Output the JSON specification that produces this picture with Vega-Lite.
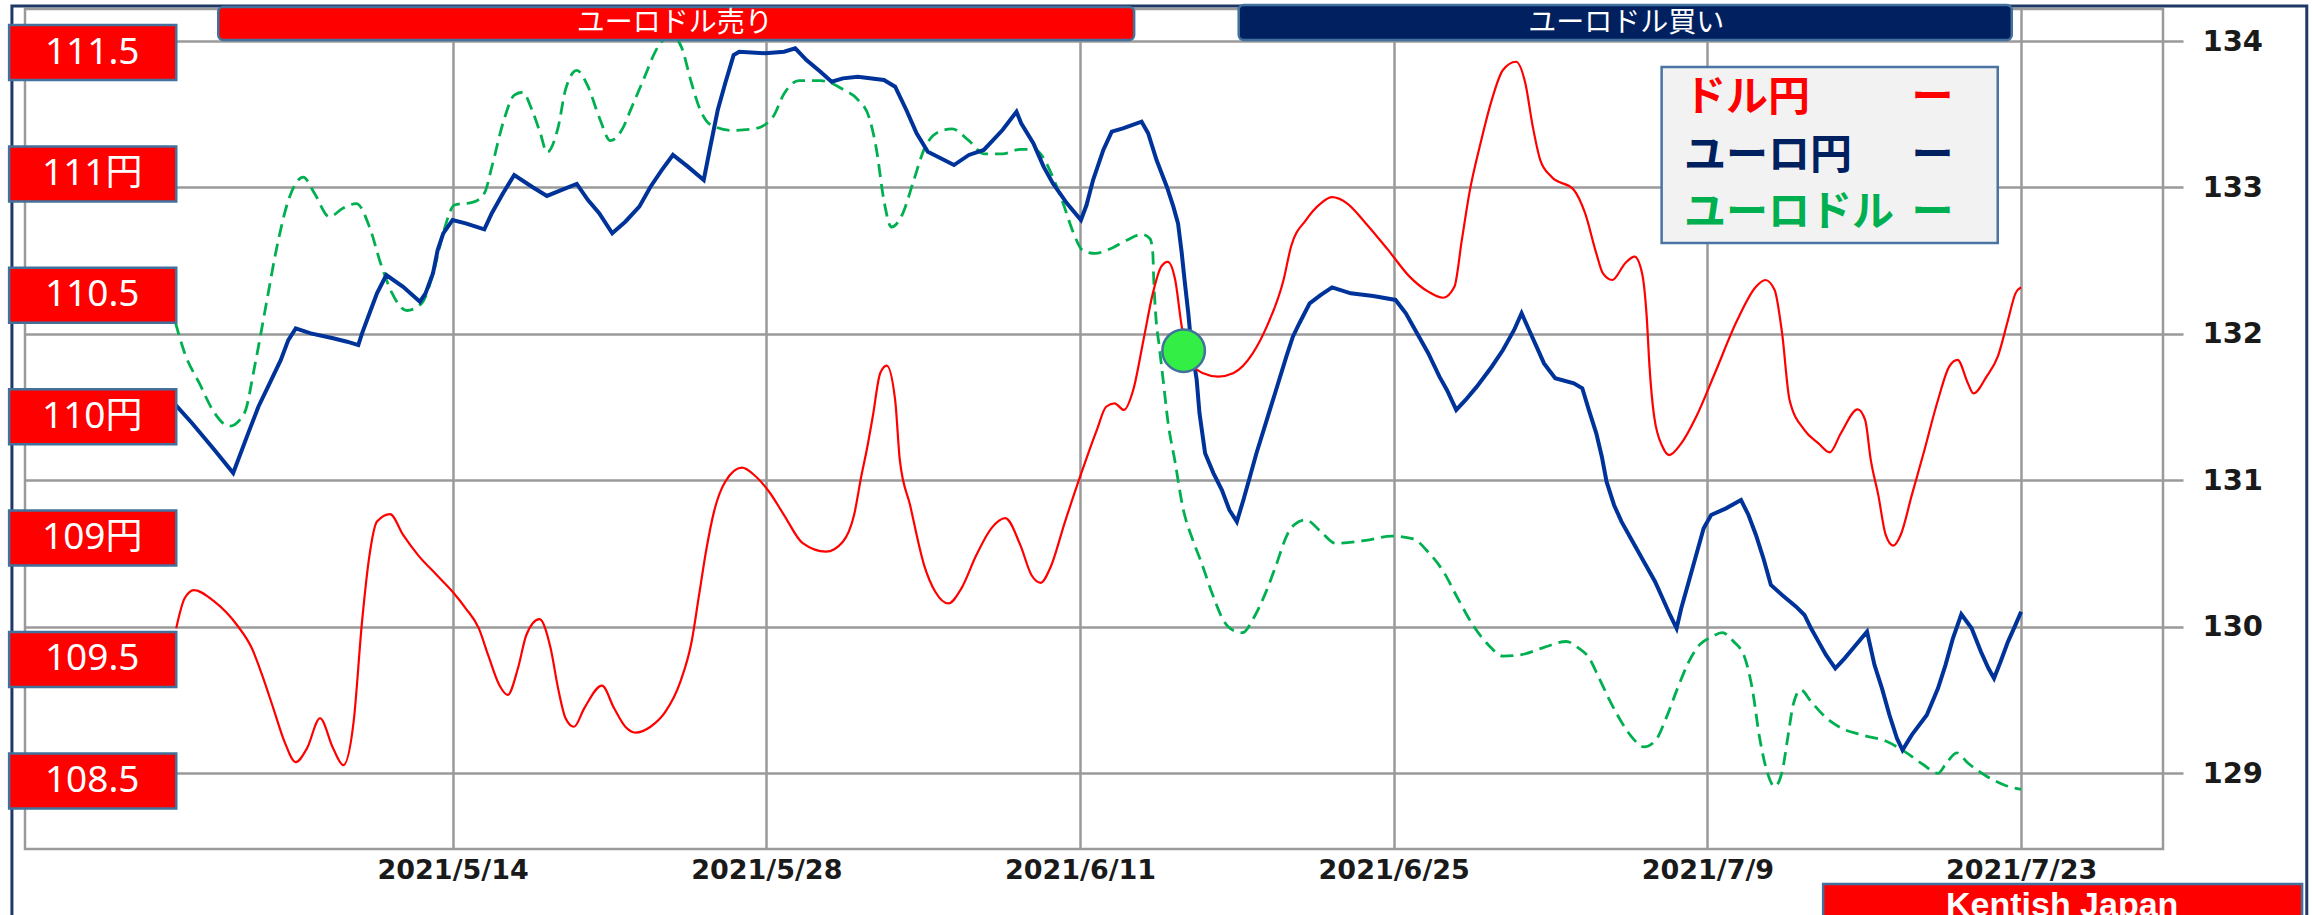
{
  "$schema": "https://vega.github.io/schema/vega-lite/v6.json",
  "width": 2138,
  "height": 840,
  "autosize": {"type": "none"},
  "padding": {"left": 25, "top": 9, "right": 149, "bottom": 66},
  "background": "#FFFFFF",
  "config": {"view": {"stroke": "#9A9A9A", "strokeWidth": 2.5}},
  "datasets": {
    "eurjpy": [
      {"t":"2021-05-01T09:00Z","v":131.56},{"t":"2021-05-02T09:00Z","v":131.39},{"t":"2021-05-03T09:00Z","v":131.207},{"t":"2021-05-04T05:00Z","v":131.05},
      {"t":"2021-05-04T21:00Z","v":131.321},{"t":"2021-05-05T08:00Z","v":131.503},{"t":"2021-05-05T20:00Z","v":131.663},{"t":"2021-05-06T08:00Z","v":131.822},
      {"t":"2021-05-06T16:00Z","v":131.958},{"t":"2021-05-07T00:00Z","v":132.038},{"t":"2021-05-07T16:00Z","v":132.004},{"t":"2021-05-08T16:00Z","v":131.97},
      {"t":"2021-05-09T07:00Z","v":131.947},{"t":"2021-05-09T19:00Z","v":131.924},{"t":"2021-05-09T23:00Z","v":132.004},{"t":"2021-05-10T07:00Z","v":132.141},
      {"t":"2021-05-10T15:00Z","v":132.277},{"t":"2021-05-11T01:00Z","v":132.402},{"t":"2021-05-11T19:00Z","v":132.322},{"t":"2021-05-12T13:00Z","v":132.22},
      {"t":"2021-05-12T19:00Z","v":132.277},{"t":"2021-05-13T03:00Z","v":132.414},{"t":"2021-05-13T08:00Z","v":132.573},{"t":"2021-05-13T14:00Z","v":132.687},
      {"t":"2021-05-14T00:00Z","v":132.778},{"t":"2021-05-14T14:00Z","v":132.755},{"t":"2021-05-15T10:00Z","v":132.714},{"t":"2021-05-15T18:00Z","v":132.824},
      {"t":"2021-05-16T06:00Z","v":132.96},{"t":"2021-05-16T18:00Z","v":133.085},{"t":"2021-05-17T13:00Z","v":133.005},{"t":"2021-05-18T05:00Z","v":132.942},
      {"t":"2021-05-18T21:00Z","v":132.983},{"t":"2021-05-19T13:00Z","v":133.024},{"t":"2021-05-20T01:00Z","v":132.914},{"t":"2021-05-20T13:00Z","v":132.824},
      {"t":"2021-05-21T03:00Z","v":132.687},{"t":"2021-05-21T17:00Z","v":132.766},{"t":"2021-05-22T08:00Z","v":132.869},{"t":"2021-05-22T20:00Z","v":133.005},
      {"t":"2021-05-23T08:00Z","v":133.119},{"t":"2021-05-23T20:00Z","v":133.222},{"t":"2021-05-24T12:00Z","v":133.142},{"t":"2021-05-25T05:00Z","v":133.051},
      {"t":"2021-05-25T12:00Z","v":133.278},{"t":"2021-05-25T20:00Z","v":133.529},{"t":"2021-05-26T04:00Z","v":133.711},{"t":"2021-05-26T13:00Z","v":133.904},
      {"t":"2021-05-26T19:00Z","v":133.927},{"t":"2021-05-27T23:00Z","v":133.916},{"t":"2021-05-28T19:00Z","v":133.927},{"t":"2021-05-29T07:00Z","v":133.95},
      {"t":"2021-05-29T19:00Z","v":133.87},{"t":"2021-05-30T10:00Z","v":133.79},{"t":"2021-05-30T22:00Z","v":133.722},{"t":"2021-05-31T10:00Z","v":133.745},
      {"t":"2021-06-01T02:00Z","v":133.756},{"t":"2021-06-02T06:00Z","v":133.734},{"t":"2021-06-02T18:00Z","v":133.688},{"t":"2021-06-03T06:00Z","v":133.529},
      {"t":"2021-06-03T17:00Z","v":133.37},{"t":"2021-06-04T05:00Z","v":133.244},{"t":"2021-06-05T09:00Z","v":133.153},{"t":"2021-06-06T01:00Z","v":133.222},
      {"t":"2021-06-06T17:00Z","v":133.256},{"t":"2021-06-07T13:00Z","v":133.392},{"t":"2021-06-08T04:00Z","v":133.517},{"t":"2021-06-08T09:00Z","v":133.438},
      {"t":"2021-06-08T22:00Z","v":133.302},{"t":"2021-06-09T09:00Z","v":133.142},{"t":"2021-06-09T19:00Z","v":133.028},{"t":"2021-06-10T10:00Z","v":132.892},
      {"t":"2021-06-11T01:00Z","v":132.778},{"t":"2021-06-11T07:00Z","v":132.88},{"t":"2021-06-11T14:00Z","v":133.051},{"t":"2021-06-12T01:00Z","v":133.256},
      {"t":"2021-06-12T10:00Z","v":133.381},{"t":"2021-06-12T22:00Z","v":133.404},{"t":"2021-06-13T18:00Z","v":133.449},{"t":"2021-06-14T01:00Z","v":133.37},
      {"t":"2021-06-14T10:00Z","v":133.187},{"t":"2021-06-14T21:00Z","v":133.005},{"t":"2021-06-15T04:00Z","v":132.869},{"t":"2021-06-15T09:00Z","v":132.755},
      {"t":"2021-06-15T13:00Z","v":132.55},{"t":"2021-06-15T16:00Z","v":132.368},{"t":"2021-06-15T20:00Z","v":132.141},{"t":"2021-06-15T23:00Z","v":131.936},
      {"t":"2021-06-16T05:00Z","v":131.685},{"t":"2021-06-16T08:00Z","v":131.458},{"t":"2021-06-16T14:00Z","v":131.185},{"t":"2021-06-16T23:00Z","v":131.048},
      {"t":"2021-06-17T08:00Z","v":130.934},{"t":"2021-06-17T16:00Z","v":130.798},{"t":"2021-06-18T00:00Z","v":130.718},{"t":"2021-06-18T07:00Z","v":130.866},
      {"t":"2021-06-18T14:00Z","v":131.025},{"t":"2021-06-18T21:00Z","v":131.185},{"t":"2021-06-19T08:00Z","v":131.412},{"t":"2021-06-19T18:00Z","v":131.617},
      {"t":"2021-06-20T05:00Z","v":131.845},{"t":"2021-06-20T12:00Z","v":131.981},{"t":"2021-06-20T19:00Z","v":132.073},{"t":"2021-06-21T06:00Z","v":132.209},
      {"t":"2021-06-21T18:00Z","v":132.266},{"t":"2021-06-22T06:00Z","v":132.318},{"t":"2021-06-23T02:00Z","v":132.277},{"t":"2021-06-24T02:00Z","v":132.259},
      {"t":"2021-06-25T02:00Z","v":132.232},{"t":"2021-06-25T13:00Z","v":132.141},{"t":"2021-06-26T01:00Z","v":132.004},{"t":"2021-06-26T13:00Z","v":131.868},
      {"t":"2021-06-27T01:00Z","v":131.708},{"t":"2021-06-27T09:00Z","v":131.617},{"t":"2021-06-27T19:00Z","v":131.481},{"t":"2021-06-28T05:00Z","v":131.549},
      {"t":"2021-06-28T17:00Z","v":131.64},{"t":"2021-06-29T09:00Z","v":131.776},{"t":"2021-06-29T21:00Z","v":131.89},{"t":"2021-06-30T09:00Z","v":132.027},
      {"t":"2021-06-30T17:00Z","v":132.141},{"t":"2021-07-01T01:00Z","v":132.027},{"t":"2021-07-01T09:00Z","v":131.913},{"t":"2021-07-01T17:00Z","v":131.799},
      {"t":"2021-07-02T05:00Z","v":131.697},{"t":"2021-07-03T01:00Z","v":131.663},{"t":"2021-07-03T10:00Z","v":131.629},{"t":"2021-07-03T17:00Z","v":131.481},
      {"t":"2021-07-04T01:00Z","v":131.321},{"t":"2021-07-04T07:00Z","v":131.16},{"t":"2021-07-04T12:00Z","v":130.991},{"t":"2021-07-04T20:00Z","v":130.832},
      {"t":"2021-07-05T04:00Z","v":130.718},{"t":"2021-07-05T16:00Z","v":130.581},{"t":"2021-07-06T04:00Z","v":130.445},{"t":"2021-07-06T16:00Z","v":130.308},
      {"t":"2021-07-07T00:00Z","v":130.195},{"t":"2021-07-07T08:00Z","v":130.081},{"t":"2021-07-07T15:00Z","v":129.99},{"t":"2021-07-07T20:00Z","v":130.127},
      {"t":"2021-07-08T04:00Z","v":130.308},{"t":"2021-07-08T12:00Z","v":130.491},{"t":"2021-07-08T20:00Z","v":130.673},{"t":"2021-07-09T04:00Z","v":130.764},
      {"t":"2021-07-09T20:00Z","v":130.809},{"t":"2021-07-10T12:00Z","v":130.866},{"t":"2021-07-10T20:00Z","v":130.764},{"t":"2021-07-11T04:00Z","v":130.627},
      {"t":"2021-07-11T12:00Z","v":130.468},{"t":"2021-07-11T20:00Z","v":130.286},{"t":"2021-07-12T08:00Z","v":130.217},{"t":"2021-07-12T23:00Z","v":130.138},
      {"t":"2021-07-13T08:00Z","v":130.081},{"t":"2021-07-13T15:00Z","v":129.99},{"t":"2021-07-13T23:00Z","v":129.899},{"t":"2021-07-14T07:00Z","v":129.808},
      {"t":"2021-07-14T17:00Z","v":129.717},{"t":"2021-07-15T03:00Z","v":129.785},{"t":"2021-07-15T15:00Z","v":129.876},{"t":"2021-07-16T03:00Z","v":129.967},
      {"t":"2021-07-16T11:00Z","v":129.739},{"t":"2021-07-16T19:00Z","v":129.58},{"t":"2021-07-17T03:00Z","v":129.398},{"t":"2021-07-17T11:00Z","v":129.239},
      {"t":"2021-07-17T17:00Z","v":129.159},{"t":"2021-07-18T03:00Z","v":129.262},{"t":"2021-07-18T19:00Z","v":129.398},{"t":"2021-07-19T07:00Z","v":129.58},
      {"t":"2021-07-19T15:00Z","v":129.739},{"t":"2021-07-19T23:00Z","v":129.922},{"t":"2021-07-20T08:00Z","v":130.086},{"t":"2021-07-20T19:00Z","v":129.99},
      {"t":"2021-07-21T05:00Z","v":129.83},{"t":"2021-07-21T13:00Z","v":129.717},{"t":"2021-07-21T19:00Z","v":129.649},{"t":"2021-07-22T02:00Z","v":129.762},
      {"t":"2021-07-22T10:00Z","v":129.899},{"t":"2021-07-22T18:00Z","v":130.013},{"t":"2021-07-23T00:00Z","v":130.103}
    ],
    "eurusd": [
      {"t":"2021-05-01T15:00Z","v":1.2108},{"t":"2021-05-02T01:00Z","v":1.2087},{"t":"2021-05-02T17:00Z","v":1.2066},{"t":"2021-05-03T09:00Z","v":1.2046},
      {"t":"2021-05-04T01:00Z","v":1.2037},{"t":"2021-05-04T17:00Z","v":1.2046},{"t":"2021-05-05T04:00Z","v":1.2078},{"t":"2021-05-05T16:00Z","v":1.2119},
      {"t":"2021-05-06T04:00Z","v":1.216},{"t":"2021-05-06T16:00Z","v":1.2191},{"t":"2021-05-07T08:00Z","v":1.2207},{"t":"2021-05-07T20:00Z","v":1.2196},
      {"t":"2021-05-08T12:00Z","v":1.218},{"t":"2021-05-09T03:00Z","v":1.2186},{"t":"2021-05-09T17:00Z","v":1.2189},{"t":"2021-05-10T07:00Z","v":1.2173},
      {"t":"2021-05-10T19:00Z","v":1.2148},{"t":"2021-05-11T07:00Z","v":1.2128},{"t":"2021-05-11T23:00Z","v":1.2116},{"t":"2021-05-12T15:00Z","v":1.2121},
      {"t":"2021-05-13T03:00Z","v":1.2141},{"t":"2021-05-13T14:00Z","v":1.2169},{"t":"2021-05-14T02:00Z","v":1.2188},{"t":"2021-05-14T22:00Z","v":1.219},
      {"t":"2021-05-15T10:00Z","v":1.2196},{"t":"2021-05-15T18:00Z","v":1.2214},{"t":"2021-05-16T06:00Z","v":1.2244},{"t":"2021-05-16T18:00Z","v":1.2263},
      {"t":"2021-05-17T03:00Z","v":1.2265},{"t":"2021-05-17T13:00Z","v":1.2253},{"t":"2021-05-17T22:00Z","v":1.2237},{"t":"2021-05-18T05:00Z","v":1.2224},
      {"t":"2021-05-18T17:00Z","v":1.2241},{"t":"2021-05-19T01:00Z","v":1.2267},{"t":"2021-05-19T13:00Z","v":1.228},{"t":"2021-05-20T01:00Z","v":1.2269},
      {"t":"2021-05-20T13:00Z","v":1.2248},{"t":"2021-05-21T01:00Z","v":1.2232},{"t":"2021-05-21T13:00Z","v":1.2239},{"t":"2021-05-22T00:00Z","v":1.2255},
      {"t":"2021-05-22T12:00Z","v":1.2273},{"t":"2021-05-23T04:00Z","v":1.2296},{"t":"2021-05-23T18:00Z","v":1.2304},{"t":"2021-05-24T05:00Z","v":1.2296},
      {"t":"2021-05-24T16:00Z","v":1.2271},{"t":"2021-05-25T00:00Z","v":1.2255},{"t":"2021-05-25T12:00Z","v":1.2243},{"t":"2021-05-26T11:00Z","v":1.2239},
      {"t":"2021-05-27T11:00Z","v":1.224},{"t":"2021-05-28T07:00Z","v":1.2248},{"t":"2021-05-28T19:00Z","v":1.2264},{"t":"2021-05-29T11:00Z","v":1.2273},
      {"t":"2021-05-30T10:00Z","v":1.2273},{"t":"2021-05-31T10:00Z","v":1.2267},{"t":"2021-06-01T02:00Z","v":1.226},{"t":"2021-06-01T14:00Z","v":1.2248},
      {"t":"2021-06-01T22:00Z","v":1.2226},{"t":"2021-06-02T06:00Z","v":1.2191},{"t":"2021-06-02T14:00Z","v":1.2173},{"t":"2021-06-03T02:00Z","v":1.2182},
      {"t":"2021-06-03T14:00Z","v":1.2205},{"t":"2021-06-04T01:00Z","v":1.2226},{"t":"2021-06-04T17:00Z","v":1.2238},{"t":"2021-06-05T07:00Z","v":1.224},
      {"t":"2021-06-06T01:00Z","v":1.2232},{"t":"2021-06-06T17:00Z","v":1.2223},{"t":"2021-06-07T13:00Z","v":1.2223},{"t":"2021-06-08T08:00Z","v":1.2226},
      {"t":"2021-06-09T00:00Z","v":1.2226},{"t":"2021-06-09T09:00Z","v":1.222},{"t":"2021-06-09T19:00Z","v":1.2207},{"t":"2021-06-10T06:00Z","v":1.2189},
      {"t":"2021-06-10T17:00Z","v":1.2169},{"t":"2021-06-11T03:00Z","v":1.2157},{"t":"2021-06-11T16:00Z","v":1.2155},{"t":"2021-06-12T08:00Z","v":1.2158},
      {"t":"2021-06-13T02:00Z","v":1.2164},{"t":"2021-06-13T18:00Z","v":1.2168},{"t":"2021-06-14T03:00Z","v":1.2165},{"t":"2021-06-14T06:00Z","v":1.2155},
      {"t":"2021-06-14T07:00Z","v":1.2137},{"t":"2021-06-14T09:00Z","v":1.2114},{"t":"2021-06-14T13:00Z","v":1.2091},{"t":"2021-06-14T17:00Z","v":1.2069},
      {"t":"2021-06-14T22:00Z","v":1.2041},{"t":"2021-06-15T06:00Z","v":1.2012},{"t":"2021-06-15T14:00Z","v":1.1982},{"t":"2021-06-16T01:00Z","v":1.1959},
      {"t":"2021-06-16T10:00Z","v":1.1944},{"t":"2021-06-16T22:00Z","v":1.1922},{"t":"2021-06-17T10:00Z","v":1.1904},{"t":"2021-06-17T22:00Z","v":1.1897},
      {"t":"2021-06-18T06:00Z","v":1.1896},{"t":"2021-06-18T18:00Z","v":1.1906},{"t":"2021-06-19T06:00Z","v":1.1922},{"t":"2021-06-19T18:00Z","v":1.1942},
      {"t":"2021-06-20T06:00Z","v":1.1963},{"t":"2021-06-20T14:00Z","v":1.197},{"t":"2021-06-21T02:00Z","v":1.1973},{"t":"2021-06-21T18:00Z","v":1.1965},
      {"t":"2021-06-22T10:00Z","v":1.1957},{"t":"2021-06-23T18:00Z","v":1.1959},{"t":"2021-06-24T22:00Z","v":1.1962},{"t":"2021-06-25T21:00Z","v":1.196},
      {"t":"2021-06-26T13:00Z","v":1.1951},{"t":"2021-06-27T05:00Z","v":1.1938},{"t":"2021-06-27T21:00Z","v":1.1919},{"t":"2021-06-28T13:00Z","v":1.1901},
      {"t":"2021-06-29T05:00Z","v":1.1888},{"t":"2021-06-29T21:00Z","v":1.188},{"t":"2021-06-30T17:00Z","v":1.1881},{"t":"2021-07-01T17:00Z","v":1.1886},
      {"t":"2021-07-02T17:00Z","v":1.189},{"t":"2021-07-03T05:00Z","v":1.1886},{"t":"2021-07-03T17:00Z","v":1.1879},{"t":"2021-07-04T04:00Z","v":1.1865},
      {"t":"2021-07-04T16:00Z","v":1.1849},{"t":"2021-07-05T04:00Z","v":1.1835},{"t":"2021-07-05T16:00Z","v":1.1824},{"t":"2021-07-06T04:00Z","v":1.1818},
      {"t":"2021-07-06T16:00Z","v":1.1822},{"t":"2021-07-07T04:00Z","v":1.1838},{"t":"2021-07-07T16:00Z","v":1.1858},{"t":"2021-07-08T04:00Z","v":1.1876},
      {"t":"2021-07-08T16:00Z","v":1.1888},{"t":"2021-07-09T04:00Z","v":1.1893},{"t":"2021-07-09T16:00Z","v":1.1896},{"t":"2021-07-10T04:00Z","v":1.189},
      {"t":"2021-07-10T16:00Z","v":1.1879},{"t":"2021-07-11T00:00Z","v":1.1858},{"t":"2021-07-11T08:00Z","v":1.1824},{"t":"2021-07-11T16:00Z","v":1.1801},
      {"t":"2021-07-12T00:00Z","v":1.1791},{"t":"2021-07-12T08:00Z","v":1.1801},{"t":"2021-07-12T14:00Z","v":1.1824},{"t":"2021-07-12T20:00Z","v":1.1847},
      {"t":"2021-07-13T04:00Z","v":1.1857},{"t":"2021-07-13T15:00Z","v":1.1849},{"t":"2021-07-14T07:00Z","v":1.1838},{"t":"2021-07-14T23:00Z","v":1.1831},
      {"t":"2021-07-15T23:00Z","v":1.1826},{"t":"2021-07-16T23:00Z","v":1.1822},{"t":"2021-07-17T19:00Z","v":1.1815},{"t":"2021-07-18T15:00Z","v":1.1806},
      {"t":"2021-07-19T07:00Z","v":1.18},{"t":"2021-07-19T15:00Z","v":1.1806},{"t":"2021-07-20T03:00Z","v":1.1814},{"t":"2021-07-20T15:00Z","v":1.1807},
      {"t":"2021-07-21T11:00Z","v":1.1798},{"t":"2021-07-22T06:00Z","v":1.1792},{"t":"2021-07-23T00:00Z","v":1.1789}
    ],
    "usdjpy": [
      {"t":"2021-05-01T16:00Z","v":109.129},{"t":"2021-05-02T01:00Z","v":109.252},{"t":"2021-05-02T11:00Z","v":109.286},{"t":"2021-05-03T09:00Z","v":109.238},
      {"t":"2021-05-04T09:00Z","v":109.142},{"t":"2021-05-05T01:00Z","v":109.046},{"t":"2021-05-05T12:00Z","v":108.936},{"t":"2021-05-06T00:00Z","v":108.799},
      {"t":"2021-05-06T12:00Z","v":108.661},{"t":"2021-05-07T00:00Z","v":108.577},{"t":"2021-05-07T12:00Z","v":108.634},{"t":"2021-05-08T02:00Z","v":108.758},
      {"t":"2021-05-08T16:00Z","v":108.634},{"t":"2021-05-09T03:00Z","v":108.565},{"t":"2021-05-09T14:00Z","v":108.744},{"t":"2021-05-09T23:00Z","v":109.156},
      {"t":"2021-05-10T07:00Z","v":109.43},{"t":"2021-05-10T15:00Z","v":109.568},{"t":"2021-05-11T05:00Z","v":109.599},{"t":"2021-05-11T19:00Z","v":109.513},
      {"t":"2021-05-12T11:00Z","v":109.43},{"t":"2021-05-13T07:00Z","v":109.348},{"t":"2021-05-14T00:00Z","v":109.279},{"t":"2021-05-14T14:00Z","v":109.211},
      {"t":"2021-05-15T04:00Z","v":109.129},{"t":"2021-05-15T14:00Z","v":109.019},{"t":"2021-05-16T02:00Z","v":108.895},{"t":"2021-05-16T11:00Z","v":108.854},
      {"t":"2021-05-16T22:00Z","v":108.964},{"t":"2021-05-17T07:00Z","v":109.101},{"t":"2021-05-17T21:00Z","v":109.166},{"t":"2021-05-18T09:00Z","v":109.046},
      {"t":"2021-05-18T17:00Z","v":108.881},{"t":"2021-05-19T01:00Z","v":108.758},{"t":"2021-05-19T10:00Z","v":108.723},{"t":"2021-05-19T21:00Z","v":108.799},
      {"t":"2021-05-20T16:00Z","v":108.892},{"t":"2021-05-21T05:00Z","v":108.799},{"t":"2021-05-21T17:00Z","v":108.723},{"t":"2021-05-22T04:00Z","v":108.699},
      {"t":"2021-05-22T20:00Z","v":108.723},{"t":"2021-05-23T12:00Z","v":108.785},{"t":"2021-05-24T04:00Z","v":108.909},{"t":"2021-05-24T16:00Z","v":109.073},
      {"t":"2021-05-25T00:00Z","v":109.266},{"t":"2021-05-25T08:00Z","v":109.458},{"t":"2021-05-25T16:00Z","v":109.609},{"t":"2021-05-26T04:00Z","v":109.732},
      {"t":"2021-05-26T22:00Z","v":109.79},{"t":"2021-05-27T11:00Z","v":109.76},{"t":"2021-05-28T03:00Z","v":109.691},{"t":"2021-05-28T19:00Z","v":109.595},
      {"t":"2021-05-29T15:00Z","v":109.479},{"t":"2021-05-30T16:00Z","v":109.444},{"t":"2021-05-31T10:00Z","v":109.485},{"t":"2021-05-31T22:00Z","v":109.595},
      {"t":"2021-06-01T06:00Z","v":109.76},{"t":"2021-06-01T12:00Z","v":109.871},{"t":"2021-06-01T18:00Z","v":110.0},{"t":"2021-06-02T02:00Z","v":110.179},
      {"t":"2021-06-02T09:00Z","v":110.21},{"t":"2021-06-02T18:00Z","v":110.069},{"t":"2021-06-02T23:00Z","v":109.822},{"t":"2021-06-03T10:00Z","v":109.636},
      {"t":"2021-06-04T01:00Z","v":109.389},{"t":"2021-06-04T13:00Z","v":109.279},{"t":"2021-06-05T03:00Z","v":109.231},{"t":"2021-06-05T17:00Z","v":109.293},
      {"t":"2021-06-06T09:00Z","v":109.43},{"t":"2021-06-07T01:00Z","v":109.54},{"t":"2021-06-07T16:00Z","v":109.582},{"t":"2021-06-08T08:00Z","v":109.472},
      {"t":"2021-06-08T20:00Z","v":109.348},{"t":"2021-06-09T06:00Z","v":109.316},{"t":"2021-06-09T16:00Z","v":109.376},{"t":"2021-06-10T08:00Z","v":109.568},
      {"t":"2021-06-11T00:00Z","v":109.752},{"t":"2021-06-11T18:00Z","v":109.945},{"t":"2021-06-12T04:00Z","v":110.041},{"t":"2021-06-12T13:00Z","v":110.055},
      {"t":"2021-06-12T23:00Z","v":110.028},{"t":"2021-06-13T09:00Z","v":110.11},{"t":"2021-06-13T20:00Z","v":110.316},{"t":"2021-06-14T06:00Z","v":110.508},
      {"t":"2021-06-14T15:00Z","v":110.618},{"t":"2021-06-14T22:00Z","v":110.638},{"t":"2021-06-15T06:00Z","v":110.563},{"t":"2021-06-15T13:00Z","v":110.371},
      {"t":"2021-06-15T23:00Z","v":110.22},{"t":"2021-06-16T12:00Z","v":110.179},{"t":"2021-06-17T04:00Z","v":110.165},{"t":"2021-06-17T20:00Z","v":110.179},
      {"t":"2021-06-18T17:00Z","v":110.261},{"t":"2021-06-19T08:00Z","v":110.371},{"t":"2021-06-20T02:00Z","v":110.563},{"t":"2021-06-20T10:00Z","v":110.7},
      {"t":"2021-06-21T02:00Z","v":110.81},{"t":"2021-06-21T18:00Z","v":110.879},{"t":"2021-06-22T06:00Z","v":110.904},{"t":"2021-06-22T22:00Z","v":110.879},
      {"t":"2021-06-23T18:00Z","v":110.797},{"t":"2021-06-24T18:00Z","v":110.687},{"t":"2021-06-25T17:00Z","v":110.577},{"t":"2021-06-26T13:00Z","v":110.515},
      {"t":"2021-06-27T05:00Z","v":110.49},{"t":"2021-06-27T17:00Z","v":110.535},{"t":"2021-06-28T01:00Z","v":110.728},{"t":"2021-06-28T09:00Z","v":110.92},
      {"t":"2021-06-28T21:00Z","v":111.126},{"t":"2021-06-29T09:00Z","v":111.304},{"t":"2021-06-29T21:00Z","v":111.428},{"t":"2021-06-30T11:00Z","v":111.462},
      {"t":"2021-06-30T21:00Z","v":111.373},{"t":"2021-07-01T05:00Z","v":111.194},{"t":"2021-07-01T13:00Z","v":111.057},{"t":"2021-07-02T01:00Z","v":110.988},
      {"t":"2021-07-03T01:00Z","v":110.934},{"t":"2021-07-03T13:00Z","v":110.838},{"t":"2021-07-04T01:00Z","v":110.673},{"t":"2021-07-04T08:00Z","v":110.591},
      {"t":"2021-07-04T18:00Z","v":110.563},{"t":"2021-07-05T08:00Z","v":110.632},{"t":"2021-07-05T18:00Z","v":110.659},{"t":"2021-07-06T02:00Z","v":110.591},
      {"t":"2021-07-06T07:00Z","v":110.412},{"t":"2021-07-06T10:00Z","v":110.206},{"t":"2021-07-06T15:00Z","v":110.0},{"t":"2021-07-07T00:00Z","v":109.876},
      {"t":"2021-07-07T07:00Z","v":109.842},{"t":"2021-07-07T20:00Z","v":109.89},{"t":"2021-07-08T12:00Z","v":110.0},{"t":"2021-07-09T08:00Z","v":110.179},
      {"t":"2021-07-10T08:00Z","v":110.398},{"t":"2021-07-11T04:00Z","v":110.535},{"t":"2021-07-11T14:00Z","v":110.563},{"t":"2021-07-12T00:00Z","v":110.522},
      {"t":"2021-07-12T08:00Z","v":110.344},{"t":"2021-07-12T16:00Z","v":110.069},{"t":"2021-07-13T08:00Z","v":109.945},{"t":"2021-07-13T23:00Z","v":109.89},
      {"t":"2021-07-14T11:00Z","v":109.853},{"t":"2021-07-14T23:00Z","v":109.932},{"t":"2021-07-15T17:00Z","v":110.03},{"t":"2021-07-16T01:00Z","v":109.986},
      {"t":"2021-07-16T07:00Z","v":109.822},{"t":"2021-07-16T15:00Z","v":109.678},{"t":"2021-07-16T23:00Z","v":109.513},{"t":"2021-07-17T07:00Z","v":109.469},
      {"t":"2021-07-17T15:00Z","v":109.513},{"t":"2021-07-18T03:00Z","v":109.678},{"t":"2021-07-18T15:00Z","v":109.842},{"t":"2021-07-19T07:00Z","v":110.069},
      {"t":"2021-07-19T19:00Z","v":110.206},{"t":"2021-07-20T04:00Z","v":110.234},{"t":"2021-07-20T15:00Z","v":110.138},{"t":"2021-07-20T21:00Z","v":110.096},
      {"t":"2021-07-21T11:00Z","v":110.165},{"t":"2021-07-21T23:00Z","v":110.247},{"t":"2021-07-22T10:00Z","v":110.398},{"t":"2021-07-22T18:00Z","v":110.508},
      {"t":"2021-07-23T00:00Z","v":110.533}
    ],
    "levels": [
      {"level":111.5,"label":"111.5"},{"level":111,"label":"111円"},{"level":110.5,"label":"110.5"},{"level":110,"label":"110円"},
      {"level":109.5,"label":"109円"},{"level":109,"label":"109.5"},{"level":108.5,"label":"108.5"}
    ]
  },
  "layer": [
    {
      "layer": [
        {
          "data": {"values": [{}]},
          "mark": {"type": "rect", "fill": "transparent", "stroke": "#1F3864", "strokeWidth": 3},
          "encoding": {
            "x": {"datum": {"year":2021,"month":4,"date":24,"hours":8,"utc":true}, "type": "temporal", "scale": {"type":"utc","domain":[{"year":2021,"month":4,"date":24,"hours":22,"utc":true},{"year":2021,"month":7,"date":29,"hours":8,"utc":true}],"nice":false}},
            "x2": {"datum": {"year":2021,"month":8,"date":4,"hours":18,"utc":true}},
            "y": {"datum": 1.23239, "type": "quantitative", "scale": {"domain":[1.174831,1.232185],"nice":false,"zero":false}, "axis": null},
            "y2": {"datum": 1.16862}
          }
        },
        {
          "data": {"name": "eurusd"},
          "mark": {"type": "line", "color": "#00B050", "strokeWidth": 2.8, "strokeDash": [13, 7], "interpolate": "monotone"},
          "encoding": {
            "x": {"field": "t", "type": "temporal", "scale": {"type":"utc","domain":[{"year":2021,"month":4,"date":24,"hours":22,"utc":true},{"year":2021,"month":7,"date":29,"hours":8,"utc":true}],"nice":false}},
            "y": {"field": "v", "type": "quantitative", "scale": {"domain":[1.174831,1.232185],"nice":false,"zero":false}, "axis": null}
          }
        }
      ]
    },
    {
      "layer": [
        {
          "data": {"name": "eurjpy"},
          "mark": {"type": "line", "color": "#003399", "strokeWidth": 4},
          "encoding": {
            "x": {"field": "t", "type": "temporal", "scale": {"type":"utc","domain":[{"year":2021,"month":4,"date":24,"hours":22,"utc":true},{"year":2021,"month":7,"date":29,"hours":8,"utc":true}],"nice":false},
              "axis": {"title": null, "orient": "bottom",
                "values": [{"year":2021,"month":5,"date":14,"utc":true},{"year":2021,"month":5,"date":28,"utc":true},{"year":2021,"month":6,"date":11,"utc":true},{"year":2021,"month":6,"date":25,"utc":true},{"year":2021,"month":7,"date":9,"utc":true},{"year":2021,"month":7,"date":23,"utc":true}],
                "labelExpr": "utcFormat(datum.value, '%Y/%-m/%-d')",
                "grid": true, "gridColor": "#9A9A9A", "gridWidth": 2.5, "ticks": false, "tickSize": 0, "domain": false,
                "labelFont": "DejaVu Sans", "labelFontSize": 27, "labelFontWeight": "bold", "labelColor": "#1A1A1A",
                "labelPadding": 8, "labelDx": 9, "labelFlush": false, "labelOverlap": false, "labelBound": false}},
            "y": {"field": "v", "type": "quantitative", "scale": {"domain":[128.4831,134.2185],"nice":false,"zero":false},
              "axis": {"title": null, "orient": "right", "values": [129,130,131,132,133,134], "format": "d",
                "grid": true, "gridColor": "#9A9A9A", "gridWidth": 2.5, "ticks": true, "tickSize": 20, "tickColor": "#9A9A9A", "tickWidth": 2.5, "domain": false,
                "labelFont": "DejaVu Sans", "labelFontSize": 29, "labelFontWeight": "bold", "labelColor": "#1A1A1A",
                "labelPadding": 19, "labelBaseline": "middle", "labelFlush": false, "labelOverlap": false, "labelBound": false}}
          }
        },
        {
          "data": {"values": [{}]},
          "mark": {"type": "rect", "fill": "#FF0000", "stroke": "#41719C", "strokeWidth": 2.5, "cornerRadius": 5},
          "encoding": {
            "x": {"datum": {"year":2021,"month":5,"date":3,"hours":13,"utc":true}, "type": "temporal", "scale": {"type":"utc","domain":[{"year":2021,"month":4,"date":24,"hours":22,"utc":true},{"year":2021,"month":7,"date":29,"hours":8,"utc":true}],"nice":false}},
            "x2": {"datum": {"year":2021,"month":6,"date":13,"hours":10,"utc":true}},
            "y": {"datum": 134.232, "type": "quantitative", "scale": {"domain":[128.4831,134.2185],"nice":false,"zero":false}},
            "y2": {"datum": 134.007}
          }
        },
        {
          "data": {"values": [{}]},
          "mark": {"type": "rect", "fill": "#002060", "stroke": "#41719C", "strokeWidth": 2.5, "cornerRadius": 5},
          "encoding": {
            "x": {"datum": {"year":2021,"month":6,"date":18,"hours":2,"utc":true}, "type": "temporal", "scale": {"type":"utc","domain":[{"year":2021,"month":4,"date":24,"hours":22,"utc":true},{"year":2021,"month":7,"date":29,"hours":8,"utc":true}],"nice":false}},
            "x2": {"datum": {"year":2021,"month":7,"date":22,"hours":14,"utc":true}},
            "y": {"datum": 134.246, "type": "quantitative", "scale": {"domain":[128.4831,134.2185],"nice":false,"zero":false}},
            "y2": {"datum": 134.007}
          }
        },
        {
          "data": {"values": [{}]},
          "mark": {"type": "text", "text": "ユーロドル売り", "font": "Noto Sans CJK JP", "fontSize": 28, "color": "#FFFFFF", "align": "center", "baseline": "middle"},
          "encoding": {
            "x": {"datum": {"year":2021,"month":5,"date":23,"hours":22,"utc":true}, "type": "temporal", "scale": {"type":"utc","domain":[{"year":2021,"month":4,"date":24,"hours":22,"utc":true},{"year":2021,"month":7,"date":29,"hours":8,"utc":true}],"nice":false}},
            "y": {"datum": 134.119, "type": "quantitative", "scale": {"domain":[128.4831,134.2185],"nice":false,"zero":false}}
          }
        },
        {
          "data": {"values": [{}]},
          "mark": {"type": "text", "text": "ユーロドル買い", "font": "Noto Sans CJK JP", "fontSize": 28, "color": "#FFFFFF", "align": "center", "baseline": "middle"},
          "encoding": {
            "x": {"datum": {"year":2021,"month":7,"date":5,"hours":9,"utc":true}, "type": "temporal", "scale": {"type":"utc","domain":[{"year":2021,"month":4,"date":24,"hours":22,"utc":true},{"year":2021,"month":7,"date":29,"hours":8,"utc":true}],"nice":false}},
            "y": {"datum": 134.119, "type": "quantitative", "scale": {"domain":[128.4831,134.2185],"nice":false,"zero":false}}
          }
        },
        {
          "data": {"values": [{}]},
          "mark": {"type": "rect", "fill": "#F2F2F2", "stroke": "#4A74A3", "strokeWidth": 2.5},
          "encoding": {
            "x": {"datum": {"year":2021,"month":7,"date":6,"hours":23,"utc":true}, "type": "temporal", "scale": {"type":"utc","domain":[{"year":2021,"month":4,"date":24,"hours":22,"utc":true},{"year":2021,"month":7,"date":29,"hours":8,"utc":true}],"nice":false}},
            "x2": {"datum": {"year":2021,"month":7,"date":21,"hours":23,"utc":true}},
            "y": {"datum": 133.822, "type": "quantitative", "scale": {"domain":[128.4831,134.2185],"nice":false,"zero":false}},
            "y2": {"datum": 132.621}
          }
        },
        {
          "data": {"values": [{}]},
          "mark": {"type": "text", "text": "ドル円", "font": "Noto Sans CJK JP", "fontSize": 42, "fontWeight": "bold", "color": "#FF0000", "align": "left", "baseline": "middle"},
          "encoding": {
            "x": {"datum": {"year":2021,"month":7,"date":7,"hours":23,"utc":true}, "type": "temporal", "scale": {"type":"utc","domain":[{"year":2021,"month":4,"date":24,"hours":22,"utc":true},{"year":2021,"month":7,"date":29,"hours":8,"utc":true}],"nice":false}},
            "y": {"datum": 133.614, "type": "quantitative", "scale": {"domain":[128.4831,134.2185],"nice":false,"zero":false}}
          }
        },
        {
          "data": {"values": [{}]},
          "mark": {"type": "text", "text": "ユーロ円", "font": "Noto Sans CJK JP", "fontSize": 42, "fontWeight": "bold", "color": "#002060", "align": "left", "baseline": "middle"},
          "encoding": {
            "x": {"datum": {"year":2021,"month":7,"date":7,"hours":23,"utc":true}, "type": "temporal", "scale": {"type":"utc","domain":[{"year":2021,"month":4,"date":24,"hours":22,"utc":true},{"year":2021,"month":7,"date":29,"hours":8,"utc":true}],"nice":false}},
            "y": {"datum": 133.215, "type": "quantitative", "scale": {"domain":[128.4831,134.2185],"nice":false,"zero":false}}
          }
        },
        {
          "data": {"values": [{}]},
          "mark": {"type": "text", "text": "ユーロドル", "font": "Noto Sans CJK JP", "fontSize": 42, "fontWeight": "bold", "color": "#00B050", "align": "left", "baseline": "middle"},
          "encoding": {
            "x": {"datum": {"year":2021,"month":7,"date":7,"hours":23,"utc":true}, "type": "temporal", "scale": {"type":"utc","domain":[{"year":2021,"month":4,"date":24,"hours":22,"utc":true},{"year":2021,"month":7,"date":29,"hours":8,"utc":true}],"nice":false}},
            "y": {"datum": 132.826, "type": "quantitative", "scale": {"domain":[128.4831,134.2185],"nice":false,"zero":false}}
          }
        },
        {
          "data": {"values": [{}]},
          "mark": {"type": "text", "text": "ー", "font": "Noto Sans CJK JP", "fontSize": 42, "fontWeight": "bold", "color": "#FF0000", "align": "center", "baseline": "middle"},
          "encoding": {
            "x": {"datum": {"year":2021,"month":7,"date":19,"hours":1,"utc":true}, "type": "temporal", "scale": {"type":"utc","domain":[{"year":2021,"month":4,"date":24,"hours":22,"utc":true},{"year":2021,"month":7,"date":29,"hours":8,"utc":true}],"nice":false}},
            "y": {"datum": 133.614, "type": "quantitative", "scale": {"domain":[128.4831,134.2185],"nice":false,"zero":false}}
          }
        },
        {
          "data": {"values": [{}]},
          "mark": {"type": "text", "text": "ー", "font": "Noto Sans CJK JP", "fontSize": 42, "fontWeight": "bold", "color": "#002060", "align": "center", "baseline": "middle"},
          "encoding": {
            "x": {"datum": {"year":2021,"month":7,"date":19,"hours":1,"utc":true}, "type": "temporal", "scale": {"type":"utc","domain":[{"year":2021,"month":4,"date":24,"hours":22,"utc":true},{"year":2021,"month":7,"date":29,"hours":8,"utc":true}],"nice":false}},
            "y": {"datum": 133.215, "type": "quantitative", "scale": {"domain":[128.4831,134.2185],"nice":false,"zero":false}}
          }
        },
        {
          "data": {"values": [{}]},
          "mark": {"type": "text", "text": "ー", "font": "Noto Sans CJK JP", "fontSize": 42, "fontWeight": "bold", "color": "#00B050", "align": "center", "baseline": "middle"},
          "encoding": {
            "x": {"datum": {"year":2021,"month":7,"date":19,"hours":1,"utc":true}, "type": "temporal", "scale": {"type":"utc","domain":[{"year":2021,"month":4,"date":24,"hours":22,"utc":true},{"year":2021,"month":7,"date":29,"hours":8,"utc":true}],"nice":false}},
            "y": {"datum": 132.826, "type": "quantitative", "scale": {"domain":[128.4831,134.2185],"nice":false,"zero":false}}
          }
        },
        {
          "data": {"values": [{}]},
          "mark": {"type": "rect", "fill": "#FF0000", "stroke": "#41719C", "strokeWidth": 2.5},
          "encoding": {
            "x": {"datum": {"year":2021,"month":7,"date":14,"hours":4,"utc":true}, "type": "temporal", "scale": {"type":"utc","domain":[{"year":2021,"month":4,"date":24,"hours":22,"utc":true},{"year":2021,"month":7,"date":29,"hours":8,"utc":true}],"nice":false}},
            "x2": {"datum": {"year":2021,"month":8,"date":4,"hours":13,"utc":true}},
            "y": {"datum": 128.244, "type": "quantitative", "scale": {"domain":[128.4831,134.2185],"nice":false,"zero":false}},
            "y2": {"datum": 127.964}
          }
        },
        {
          "data": {"values": [{}]},
          "mark": {"type": "text", "text": "Kentish  Japan", "font": "Liberation Sans", "fontSize": 34, "fontWeight": "bold", "color": "#FFFFFF", "align": "center", "baseline": "alphabetic"},
          "encoding": {
            "x": {"datum": {"year":2021,"month":7,"date":24,"hours":20,"utc":true}, "type": "temporal", "scale": {"type":"utc","domain":[{"year":2021,"month":4,"date":24,"hours":22,"utc":true},{"year":2021,"month":7,"date":29,"hours":8,"utc":true}],"nice":false}},
            "y": {"datum": 128.027, "type": "quantitative", "scale": {"domain":[128.4831,134.2185],"nice":false,"zero":false}}
          }
        }
      ]
    },
    {
      "layer": [
        {
          "data": {"name": "usdjpy"},
          "mark": {"type": "line", "color": "#FF0000", "strokeWidth": 2.2, "interpolate": "monotone"},
          "encoding": {
            "x": {"field": "t", "type": "temporal", "scale": {"type":"utc","domain":[{"year":2021,"month":4,"date":24,"hours":22,"utc":true},{"year":2021,"month":7,"date":29,"hours":8,"utc":true}],"nice":false}},
            "y": {"field": "v", "type": "quantitative", "scale": {"domain":[108.2195,111.6792],"nice":false,"zero":false}, "axis": null}
          }
        },
        {
          "data": {"name": "levels"},
          "mark": {"type": "rect", "fill": "#FF0000", "stroke": "#41719C", "strokeWidth": 2.5, "height": 55},
          "encoding": {
            "x": {"datum": {"year":2021,"month":4,"date":24,"hours":5,"utc":true}, "type": "temporal", "scale": {"type":"utc","domain":[{"year":2021,"month":4,"date":24,"hours":22,"utc":true},{"year":2021,"month":7,"date":29,"hours":8,"utc":true}],"nice":false}},
            "x2": {"datum": {"year":2021,"month":5,"date":1,"hours":16,"utc":true}},
            "y": {"field": "level", "type": "quantitative", "scale": {"domain":[108.2195,111.6792],"nice":false,"zero":false}, "axis": null}
          }
        },
        {
          "data": {"name": "levels"},
          "mark": {"type": "text", "font": "'Noto Sans', 'Noto Sans CJK JP'", "fontSize": 37, "color": "#FFFFFF", "align": "center", "baseline": "middle"},
          "encoding": {
            "x": {"datum": {"year":2021,"month":4,"date":27,"hours":22,"utc":true}, "type": "temporal", "scale": {"type":"utc","domain":[{"year":2021,"month":4,"date":24,"hours":22,"utc":true},{"year":2021,"month":7,"date":29,"hours":8,"utc":true}],"nice":false}},
            "y": {"field": "level", "type": "quantitative", "scale": {"domain":[108.2195,111.6792],"nice":false,"zero":false}, "axis": null},
            "text": {"field": "label"}
          }
        },
        {
          "data": {"values": [{"t": "2021-06-15T15:00Z", "v": 110.272}]},
          "mark": {"type": "point", "shape": "circle", "filled": true, "size": 1810, "fill": "#33EE44", "stroke": "#41719C", "strokeWidth": 2.5, "opacity": 1, "fillOpacity": 1},
          "encoding": {
            "x": {"field": "t", "type": "temporal", "scale": {"type":"utc","domain":[{"year":2021,"month":4,"date":24,"hours":22,"utc":true},{"year":2021,"month":7,"date":29,"hours":8,"utc":true}],"nice":false}},
            "y": {"field": "v", "type": "quantitative", "scale": {"domain":[108.2195,111.6792],"nice":false,"zero":false}, "axis": null}
          }
        }
      ]
    }
  ],
  "resolve": {"scale": {"y": "independent"}}
}
